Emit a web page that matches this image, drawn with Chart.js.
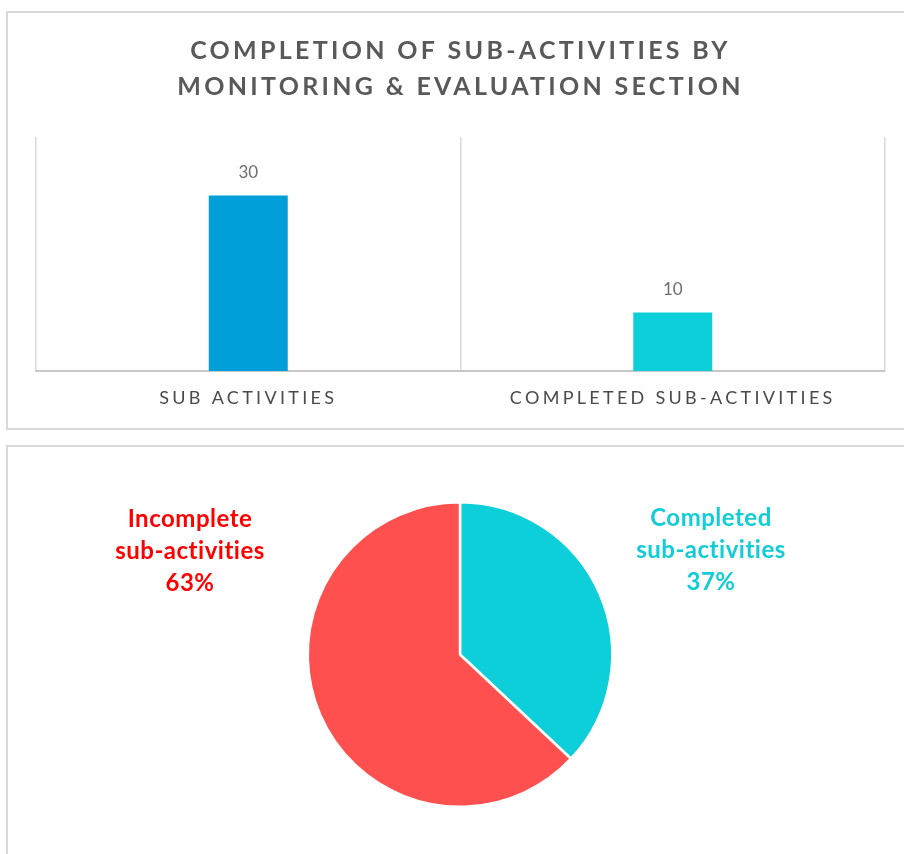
<!DOCTYPE html>
<html>
<head>
<meta charset="utf-8">
<script src="https://cdn.jsdelivr.net/npm/chart.js@4.4.1/dist/chart.umd.min.js"></script>
<style>
    html, body { margin: 0; padding: 0; background: #fff; width: 904px; height: 854px; overflow: hidden; }
    .box { position: absolute; border: 2px solid #d9d9d9; background: #fff; }
    #barBox { left: 6px; top: 11px; width: 920px; height: 415px; }
    #pieBox { left: 6px; top: 445px; width: 920px; height: 440px; }
    #barCanvas { position: absolute; left: 0; top: 0; }
    #pieCanvas { position: absolute; left: 0; top: 445px; }
</style>
</head>
<body>
<div class="box" id="barBox"></div>
<div class="box" id="pieBox"></div>
<canvas id="barCanvas" width="904" height="440"></canvas>
<canvas id="pieCanvas" width="904" height="409"></canvas>
<script>
// Bar chart data
const barTitle = ['COMPLETION OF SUB-ACTIVITIES BY', 'MONITORING & EVALUATION SECTION'];
const barCategories = ['SUB ACTIVITIES', 'COMPLETED SUB-ACTIVITIES'];
const barValues = [30, 10];
const barColors = ['#009fd9', '#0dcfda'];

// Pie chart data
const pieLabels = [['Completed', 'sub-activities'], ['Incomplete', 'sub-activities']];
const pieValues = [37, 63];
const pieColors = ['#0dcfda', '#ff5050'];
const pieTextColors = ['#12ccd6', '#ff0000'];

const FONT = 'Lato, "Open Sans", sans-serif';

// letter spacing for title + category labels, normal for value labels
const spacingPlugin = {
    id: 'spacing',
    beforeDraw(chart) { chart.ctx.letterSpacing = '3.3px'; },
    beforeDatasetsDraw(chart) { chart.ctx.letterSpacing = '0px'; },
    afterDatasetsDraw(chart) {
        const ctx = chart.ctx;
        const meta = chart.getDatasetMeta(0);
        ctx.save();
        ctx.letterSpacing = '0px';
        ctx.font = '17px ' + FONT;
        ctx.fillStyle = '#6e6e6e';
        ctx.textAlign = 'center';
        ctx.textBaseline = 'middle';
        meta.data.forEach((bar, i) => {
            ctx.fillText(String(barValues[i]), bar.x, bar.y - 23);
        });
        ctx.restore();
    }
};

new Chart(document.getElementById('barCanvas'), {
    type: 'bar',
    data: {
        labels: barCategories,
        datasets: [{
            data: barValues,
            backgroundColor: barColors,
            categoryPercentage: 1,
            barPercentage: 0.186
        }]
    },
    options: {
        responsive: false,
        animation: false,
        layout: { padding: { left: 36, right: 19, top: 0, bottom: 9 } },
        plugins: {
            legend: { display: false },
            tooltip: { enabled: false },
            title: {
                display: true,
                text: barTitle,
                color: '#595959',
                font: { family: FONT, size: 25, weight: 'bold', lineHeight: 1.44 },
                padding: { top: 33, bottom: 32 }
            }
        },
        scales: {
            x: {
                grid: { color: '#d9d9d9', lineWidth: 1.5, drawTicks: false, offset: true },
                border: { color: '#c8c8c8', width: 2 },
                ticks: { color: '#4a4a4a', font: { family: FONT, size: 18 }, padding: 16 },
                afterFit: s => { s.height = 60; }
            },
            y: { display: false, min: 0, max: 40 }
        }
    },
    plugins: [spacingPlugin]
});

// pie labels drawn beside the slices
const pieLabelPlugin = {
    id: 'pieLabels',
    afterDatasetsDraw(chart) {
        const ctx = chart.ctx;
        const total = pieValues.reduce((a, b) => a + b, 0);
        const meta = chart.getDatasetMeta(0);
        const cx = meta.data[0].x;
        const spots = [{ x: cx + 251, y: 73 }, { x: cx - 270, y: 74 }];
        ctx.save();
        ctx.font = 'bold 24px ' + FONT;
        ctx.letterSpacing = '0.5px';
        ctx.textAlign = 'center';
        ctx.textBaseline = 'middle';
        pieLabels.forEach((lines, i) => {
            ctx.fillStyle = pieTextColors[i];
            const pct = Math.round(pieValues[i] / total * 100) + '%';
            [...lines, pct].forEach((t, j) => ctx.fillText(t, spots[i].x, spots[i].y + j * 32));
        });
        ctx.restore();
    }
};

new Chart(document.getElementById('pieCanvas'), {
    type: 'pie',
    data: {
        labels: pieLabels.map(l => l.join(' ')),
        datasets: [{
            data: pieValues,
            backgroundColor: pieColors,
            borderColor: '#ffffff',
            borderWidth: 2.5
        }]
    },
    options: {
        responsive: false,
        animation: false,
        layout: { padding: { left: 154, right: 138, top: 56, bottom: 46 } },
        plugins: {
            legend: { display: false },
            tooltip: { enabled: false }
        }
    },
    plugins: [pieLabelPlugin]
});
</script>
</body>
</html>
